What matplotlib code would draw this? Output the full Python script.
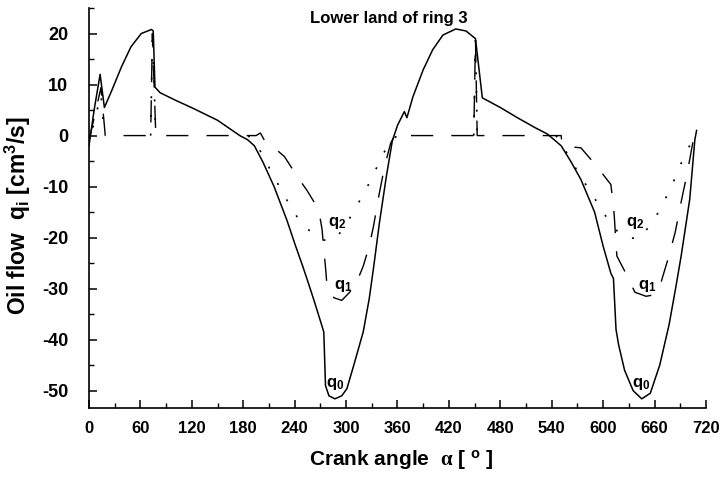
import matplotlib
matplotlib.use("Agg")
import matplotlib.pyplot as plt
import numpy as np

plt.rcParams["font.family"] = ["Liberation Sans", "DejaVu Sans"]
plt.rcParams["font.weight"] = "bold"
plt.rcParams["axes.labelweight"] = "bold"
plt.rcParams["axes.unicode_minus"] = False
plt.rcParams["mathtext.fontset"] = "custom"
plt.rcParams["mathtext.rm"] = "Liberation Sans:bold"
plt.rcParams["mathtext.it"] = "Liberation Sans:bold"
plt.rcParams["mathtext.bf"] = "Liberation Sans:bold"
plt.rcParams["mathtext.sf"] = "Liberation Serif"

# oil flow through the lower land of ring 3 over two crankshaft revolutions
q0_angle = [0, 6, 13, 18, 26, 38, 49, 61, 73, 75, 77, 83, 100, 122, 150, 176,
            185, 193, 203, 216, 231, 241, 249, 255, 262, 270, 274, 276, 280,
            287, 295, 301, 309, 320, 327, 332, 339, 347, 354, 360, 368, 371,
            378, 390, 401, 413, 428, 440, 451, 459, 480, 500, 520, 535, 551,
            562, 574, 590, 600, 609, 612, 615, 618, 625, 635, 645, 655, 666,
            677, 685, 691, 701, 707, 709]
q0_flow = [-2, 5, 12, 5.5, 8.6, 13.5, 17.4, 20, 20.8, 20.5, 9.5, 8.4, 7.0, 5.3,
           3.0, 0, -0.8, -2, -5.2, -10, -16.6, -21.6, -25.4, -28.4, -32, -36.3,
           -38.5, -49, -51, -51.6, -51, -49.6, -45, -38.5, -32, -26, -17, -8,
           -1, 2, 4.7, 3.5, 7.6, 12.9, 16.8, 19.7, 20.9, 20.5, 19, 7.4, 5.5,
           3.5, 1.6, 0.3, -2, -5, -8.6, -15, -21.7, -27, -28, -38, -41, -46,
           -50, -51.6, -50.5, -45, -37, -29.5, -23.6, -12.5, -0.8, 1]

q1_angle = [0, 14, 19, 72, 74, 78, 195, 200, 205, 212, 228, 243, 255, 268,
            272, 274, 276, 278, 286, 295, 310, 320, 327, 332, 338, 345, 352,
            357, 449, 451, 453, 551, 552, 562, 574, 591, 603, 609, 611, 613,
            614.5, 616, 628, 637, 650, 660, 668, 676, 684, 691, 696, 701, 705,
            709]
q1_flow = [-1, 9.4, 0, 0, 20, 0, 0, 0.5, -1, -1.8, -4.1, -8, -10.9, -14.5,
           -18.4, -22.3, -25.8, -30, -31.8, -32.3, -29.7, -25.6, -21.7, -17.8,
           -12, -6, -1.5, 0, 0, 19, 0, 0, -1.8, -2.2, -2.4, -5.7, -8.3, -9.6,
           -12.5, -15.8, -20, -23.6, -27.5, -30.7, -31.5, -31.2, -28.5, -24,
           -19, -13, -9, -4.7, -1, 0]

# gaps (nan) where q2 coincides with the zero line of q1
q2_angle = [0, 6, 14, 18, np.nan, 72, 74, 78, np.nan, 186, 191, 203, 213, 224,
            235, 247, 264, 275, 286, 298, 310, 322, 332, 342, 352, 360, np.nan,
            449, 451, 453, np.nan, 545, 549, 561, 572, 584, 596, 609, 622, 641,
            656, 668, 678, 687, 695, 703, 709]
q2_flow = [-2, 2.7, 8, 0, np.nan, 0, 20, 0, np.nan, 0, -1.1, -3.7, -7.3, -10.5,
           -13.9, -17, -19.7, -20.5, -20.5, -18, -14.5, -11, -7.6, -4, -1, 0,
           np.nan, 0, 19, 0, np.nan, 0, -1.1, -4.3, -7.6, -10.7, -13.9, -17.4,
           -19.7, -20.3, -17.4, -14, -10.5, -7.2, -3.7, -1.4, 0]

curve_names = ["q$_0$", "q$_1$", "q$_2$"]
name_angle = [[287, 644], [297, 651], [290, 637]]
name_flow = [[-48.6, -48.6], [-29.4, -29.4], [-17.2, -17.2]]

fig = plt.figure(figsize=(7.21, 4.78), dpi=100)
ax = fig.add_axes([0.1234, 0.1464, 0.8558, 0.8368])

ax.plot(q0_angle, q0_flow, color="black", lw=1.1)
ax.plot(q1_angle, q1_flow, color="black", lw=1.0, dashes=(16, 13))
ax.plot(q2_angle, q2_flow, color="black", lw=1.2, dashes=(1.2, 10))

for name, xs, ys in zip(curve_names, name_angle, name_flow):
    for x, y in zip(xs, ys):
        ax.text(x, y, name, fontsize=12, ha="center", va="center")

ax.text(0.486, 0.975, "Lower land of ring 3", transform=ax.transAxes,
        fontsize=12, ha="center", va="center")

ax.set_xlim(0, 720)
ax.set_ylim(-53.4, 25)
ax.set_xticks(np.arange(0, 721, 60))
ax.set_xticks(np.arange(0, 721, 30), minor=True)
ax.set_yticks(np.arange(-50, 21, 10))
ax.set_yticks(np.arange(-50, 26, 5), minor=True)
ax.spines["top"].set_visible(False)
ax.spines["right"].set_visible(False)
ax.spines["left"].set_linewidth(1.2)
ax.spines["bottom"].set_linewidth(1.2)
ax.tick_params(which="major", direction="in", length=6, width=1.1)
ax.tick_params(which="minor", direction="in", length=3.5, width=1.0)
ax.tick_params(axis="x", pad=9, labelsize=12)
ax.tick_params(axis="y", pad=15, labelsize=13)

ax.set_xlabel(r"Crank angle  $\mathsf{\alpha}$ [ $^{\rm o}$ ]", fontsize=15)
ax.set_ylabel(r"Oil flow  q$_{\rm i}$ [cm$^3$/s]", fontsize=16.5)
ax.xaxis.set_label_coords(0.507, -0.1)
ax.yaxis.set_label_coords(-0.09, 0.48)

fig.savefig("out.png", dpi=100)
